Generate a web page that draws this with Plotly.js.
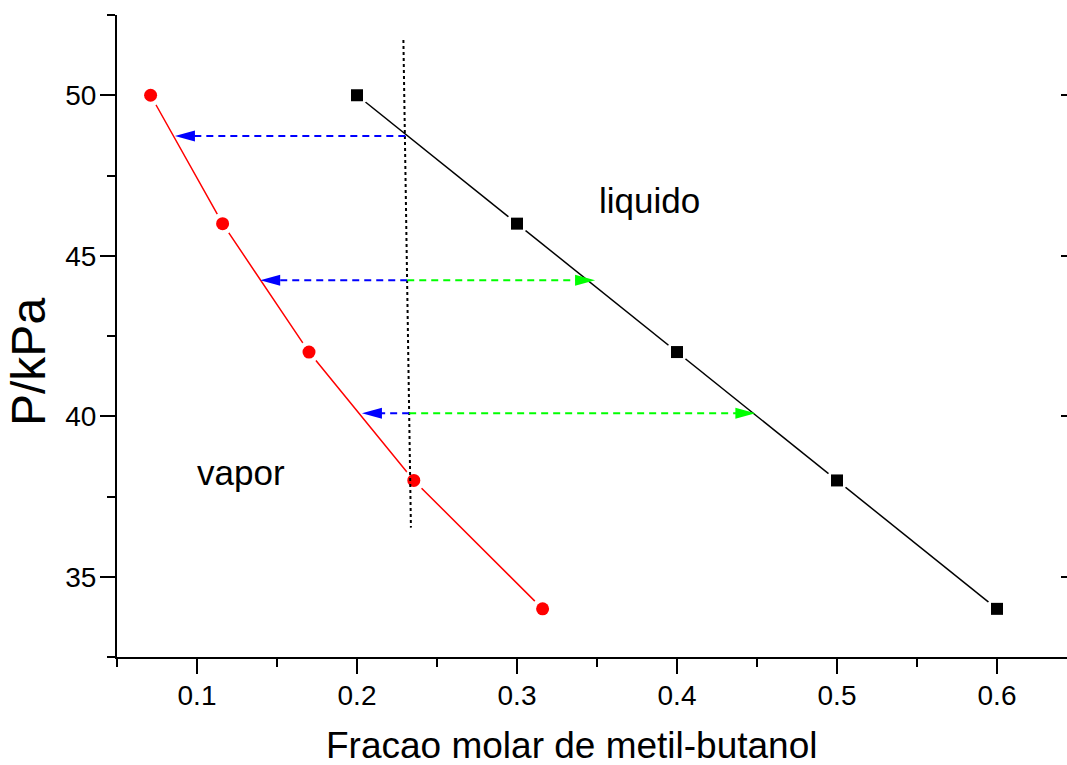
<!DOCTYPE html>
<html>
<head>
<meta charset="utf-8">
<script src="https://cdn.plot.ly/plotly-3.0.1.min.js"></script>
<style>html,body{margin:0;padding:0;background:#fff;}#chart{width:1067px;height:765px;}</style>
</head>
<body>
<div id="chart"></div>
<script>
// Liquid (black squares)
const liquidX = [0.2, 0.3, 0.4, 0.5, 0.6];
const liquidP = [50, 46, 42, 38, 34];
// Vapor (red circles)
const vaporX = [0.071, 0.116, 0.170, 0.2355, 0.316];
const vaporP = [50, 46, 42, 38, 34];
// Dotted vertical composition line
const dottedX = [0.229, 0.2337];
const dottedP = [51.72, 36.53];
// Tie-line arrows
const blueStartX = [0.2302, 0.2314, 0.2326];
const blueTipX = [0.0862, 0.1395, 0.2031];
const blueP = [48.73, 44.24, 40.09];
const greenStartX = [0.2314, 0.2326];
const greenTipX = [0.3488, 0.4490];
const greenP = [44.24, 40.09];
// Region labels
const labelText = ["liquido", "vapor"];
const labelX = [0.383, 0.1275];
const labelP = [46.73, 38.25];
// Axis ticks and titles
const yTicks = [35, 40, 45, 50];
const xTicks = [0.1, 0.2, 0.3, 0.4, 0.5, 0.6];
const xTitle = 'Fracao molar de metil-butanol';
const yTitle = 'P/kPa';

const FONT = "Arial, 'Liberation Sans', sans-serif";

const traces = [
  {x: liquidX, y: liquidP, mode: 'lines', line: {color: '#000', width: 1.5}, hoverinfo: 'skip', showlegend: false},
  {x: vaporX, y: vaporP, mode: 'lines', line: {color: '#ff0000', width: 1.5}, hoverinfo: 'skip', showlegend: false},
  {x: liquidX, y: liquidP, mode: 'markers', marker: {symbol: 'circle', size: 22, color: '#fff'}, hoverinfo: 'skip', showlegend: false},
  {x: vaporX, y: vaporP, mode: 'markers', marker: {symbol: 'circle', size: 22, color: '#fff'}, hoverinfo: 'skip', showlegend: false},
  {x: liquidX, y: liquidP, mode: 'markers', name: 'liquido', marker: {symbol: 'square', size: 12, color: '#000'}, showlegend: false},
  {x: vaporX, y: vaporP, mode: 'markers', name: 'vapor', marker: {symbol: 'circle', size: 13, color: '#ff0000'}, showlegend: false},
  {x: [liquidX[0]], y: [liquidP[0]], yaxis: 'y2', mode: 'markers', marker: {opacity: 0}, hoverinfo: 'skip', showlegend: false}
];

const shapes = [];
shapes.push({type: 'line', xref: 'x', yref: 'y', x0: dottedX[0], y0: dottedP[0], x1: dottedX[1], y1: dottedP[1],
  line: {color: '#000', width: 2, dash: 'dot'}});
blueP.forEach((p, i) => {
  shapes.push({type: 'line', xref: 'x', yref: 'y', x0: blueStartX[i], y0: p, x1: blueTipX[i] + 0.008, y1: p,
    line: {color: '#0000ff', width: 2, dash: '7px,5px'}});
  shapes.push({type: 'path', xref: 'x', yref: 'y', xsizemode: 'pixel', ysizemode: 'pixel',
    xanchor: blueTipX[i], yanchor: p, path: 'M0,0 L20,5.5 L20,-5.5 Z',
    fillcolor: '#0000ff', line: {width: 0}});
});
greenP.forEach((p, i) => {
  shapes.push({type: 'line', xref: 'x', yref: 'y', x0: greenStartX[i], y0: p, x1: greenTipX[i] - 0.008, y1: p,
    line: {color: '#00ff00', width: 2, dash: '7px,5px'}});
  shapes.push({type: 'path', xref: 'x', yref: 'y', xsizemode: 'pixel', ysizemode: 'pixel',
    xanchor: greenTipX[i], yanchor: p, path: 'M0,0 L-20,5.5 L-20,-5.5 Z',
    fillcolor: '#00ff00', line: {width: 0}});
});

const annotations = labelText.map((t, i) => ({
  x: labelX[i], y: labelP[i], xref: 'x', yref: 'y', text: t, showarrow: false,
  font: {family: FONT, size: 35, color: '#000'}, xanchor: 'center', yanchor: 'middle'
}));
annotations.push({x: 0.479, y: -0.1386, xref: 'paper', yref: 'paper', text: xTitle, showarrow: false,
  font: {family: FONT, size: 37, color: '#000'}, xanchor: 'center', yanchor: 'middle'});
annotations.push({x: -0.0937, y: 0.4595, xref: 'paper', yref: 'paper', text: yTitle, showarrow: false,
  textangle: -90, font: {family: FONT, size: 48, color: '#000'}, xanchor: 'center', yanchor: 'middle'});

const layout = {
  width: 1067, height: 765,
  margin: {l: 117, r: 0, t: 15, b: 108, pad: 0},
  paper_bgcolor: '#fff', plot_bgcolor: '#fff',
  font: {family: FONT, color: '#000'},
  showlegend: false,
  xaxis: {
    range: [0.05, 0.64375], tickvals: xTicks, ticktext: xTicks.map(v => v.toFixed(1)),
    showline: true, linecolor: '#000', linewidth: 2, showgrid: false, zeroline: false,
    ticks: 'outside', ticklen: 15, tickwidth: 2, tickcolor: '#000', ticklabelstandoff: -3,
    tickfont: {family: FONT, size: 28, color: '#000'},
    minor: {dtick: 0.05, tick0: 0, ticks: 'outside', ticklen: 8, tickwidth: 2, tickcolor: '#000', showgrid: false},
    automargin: false
  },
  yaxis: {
    range: [32.5, 52.5], tickvals: yTicks, ticktext: yTicks.map(String),
    showline: true, linecolor: '#000', linewidth: 2, showgrid: false, zeroline: false,
    ticks: 'outside', ticklen: 15, tickwidth: 2, tickcolor: '#000', ticklabelstandoff: -2,
    tickfont: {family: FONT, size: 28, color: '#000'},
    minor: {dtick: 2.5, tick0: 0, ticks: 'outside', ticklen: 8, tickwidth: 2, tickcolor: '#000', showgrid: false},
    automargin: false
  },
  yaxis2: {
    overlaying: 'y', side: 'right', range: [32.5, 52.5], tickvals: yTicks,
    showticklabels: false, showline: false, showgrid: false, zeroline: false,
    ticks: 'inside', ticklen: 6, tickwidth: 2, tickcolor: '#000', automargin: false
  },
  shapes: shapes,
  annotations: annotations
};

Plotly.newPlot('chart', traces, layout, {displayModeBar: false, staticPlot: true});
</script>
</body>
</html>
